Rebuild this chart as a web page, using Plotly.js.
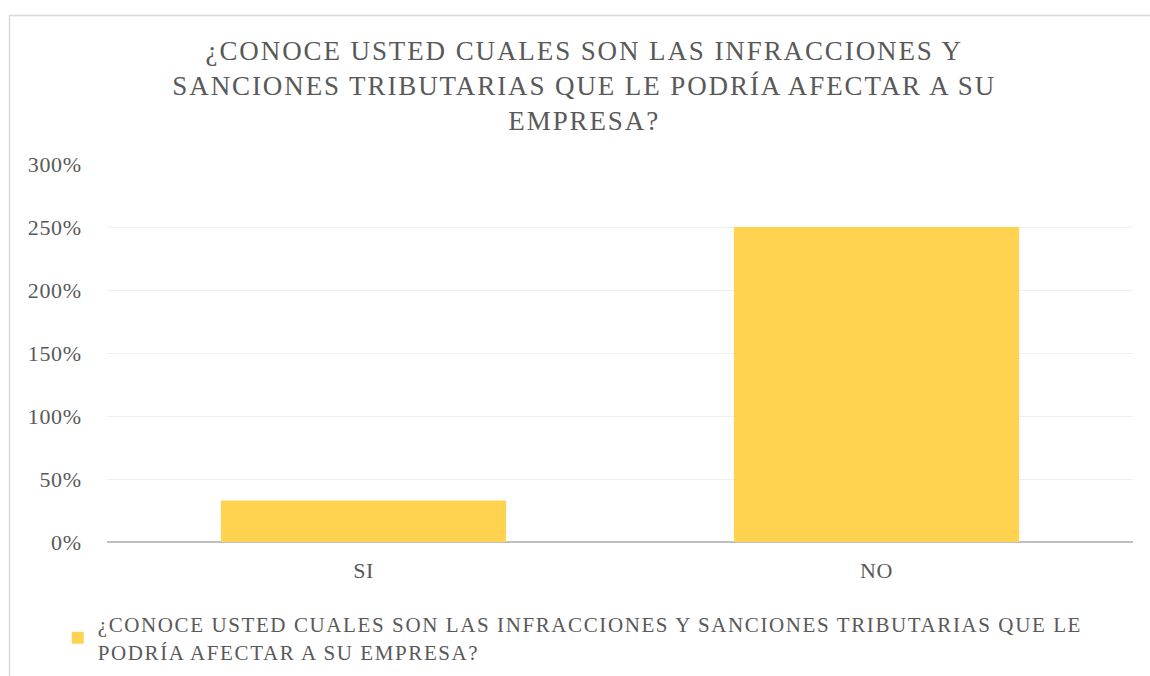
<!DOCTYPE html>
<html><head><meta charset="utf-8">
<script src="https://cdn.plot.ly/plotly-3.0.1.min.js"></script>
<style>
body{margin:0;background:#fff}#c{width:1150px;height:676px}
.gtitle{letter-spacing:1.9px}
.legendtext{letter-spacing:1.6px}
.xtick text,.ytick text{letter-spacing:0.6px}
</style>
</head><body><div id="c"></div>
<script>
const categories = ["SI", "NO"];
const values = [0.33, 2.50];
const seriesName = "¿CONOCE USTED CUALES SON LAS INFRACCIONES Y SANCIONES TRIBUTARIAS QUE LE<br>PODRÍA AFECTAR A SU EMPRESA?";
const chartTitle = "¿CONOCE USTED CUALES SON LAS INFRACCIONES Y<br>SANCIONES TRIBUTARIAS QUE LE PODRÍA AFECTAR A SU<br>EMPRESA?";
const tickVals = [0, 0.5, 1, 1.5, 2, 2.5, 3];
const tickText = ["0%", "50%", "100%", "150%", "200%", "250%", "300%"];

const font = "Liberation Serif";
const grey = "#595959";

Plotly.newPlot("c", [{
  type: "bar", x: categories, y: values, name: seriesName,
  marker: {color: "#FFD34F"}, showlegend: true, hoverinfo: "none"
}], {
  width: 1150, height: 676,
  margin: {l: 107, r: 17, t: 164, b: 0},
  paper_bgcolor: "#fff", plot_bgcolor: "#fff",
  font: {family: font, color: grey, size: 21},
  title: {text: chartTitle, font: {family: font, size: 27, color: grey},
          x: 0.508, xanchor: "center", y: 0.911, yanchor: "top"},
  bargap: 0.444,
  xaxis: {tickfont: {family: font, size: 22, color: grey}, showline: false,
          ticks: "outside", ticklen: 9, tickcolor: "rgba(0,0,0,0)", showgrid: false},
  yaxis: {range: [0, 3], domain: [0.2617, 1], tickvals: tickVals, ticktext: tickText,
          tickfont: {family: font, size: 22, color: grey}, gridcolor: "#efefef", gridwidth: 1,
          zeroline: true, zerolinecolor: "#bfbfbf", zerolinewidth: 2,
          ticks: "outside", ticklen: 20, tickcolor: "rgba(0,0,0,0)", showline: false},
  legend: {orientation: "h", x: -0.048, xanchor: "left", y: 0.1406, yanchor: "top",
           font: {family: font, size: 21, color: grey}, itemwidth: 30},
  shapes: [{type: "rect", xref: "paper", yref: "paper",
            x0: -0.095, x1: 1.05, y0: -0.5, y1: 1.29,
            line: {color: "#d9d9d9", width: 1.5}, fillcolor: "rgba(0,0,0,0)"}]
}, {displayModeBar: false, staticPlot: true});
</script></body></html>
